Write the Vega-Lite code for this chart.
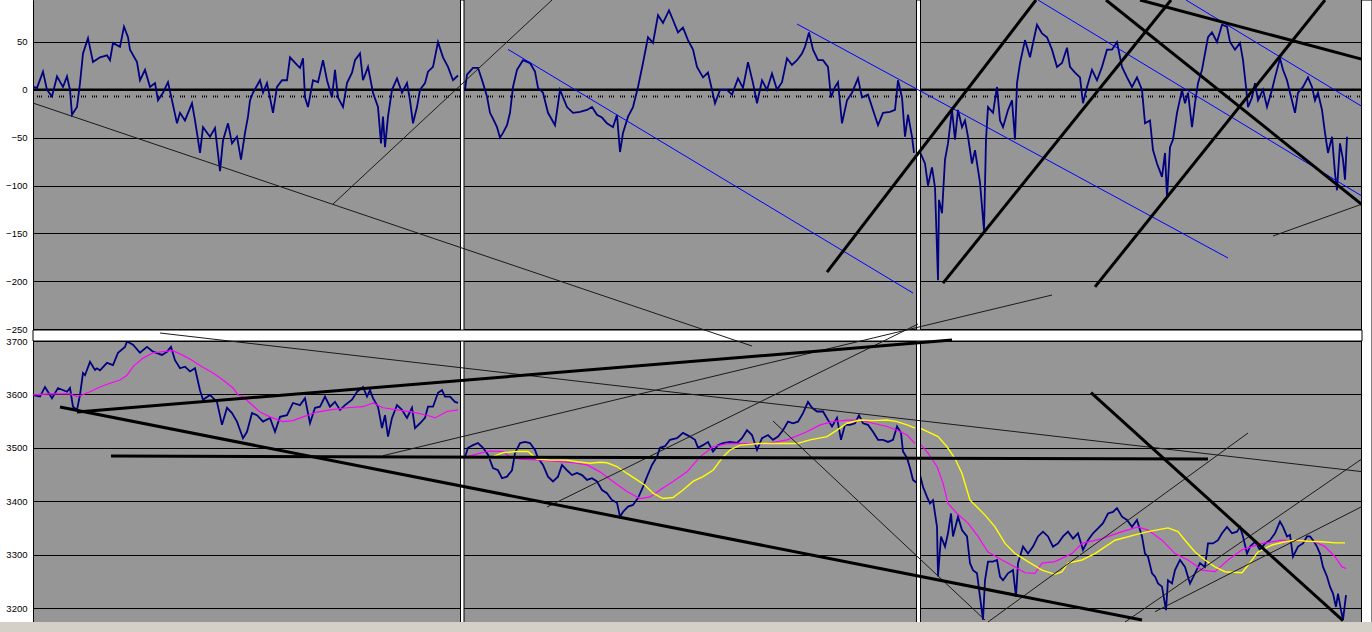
{
"$schema": "https://vega.github.io/schema/vega-lite/v6.json",
"width": 1329, "height": 632,
"autosize": {"type": "none"},
"padding": {"left": 33, "top": 0, "right": 10, "bottom": 0},
"background": "#FFFFFF",
"config": {"view": {"fill": "#969696", "stroke": null}},
"datasets": {
"one": [{}],
"osc": [
{"t":33,"v":3,"s":1},{"t":37,"v":2,"s":1},{"t":43,"v":19,"s":1},{"t":47,"v":0,"s":1},{"t":52,"v":-7,"s":1},{"t":57,"v":14,"s":1},{"t":63,"v":3,"s":1},{"t":67,"v":14,"s":1},{"t":70,"v":0,"s":1},{"t":72,"v":-26,"s":1},{"t":77,"v":-18,"s":1},{"t":80,"v":7,"s":1},{"t":83,"v":38,"s":1},{"t":88,"v":54,"s":1},{"t":93,"v":29,"s":1},{"t":100,"v":34,"s":1},{"t":107,"v":36,"s":1},{"t":110,"v":31,"s":1},{"t":113,"v":49,"s":1},{"t":120,"v":45,"s":1},{"t":124,"v":66,"s":1},{"t":128,"v":55,"s":1},{"t":130,"v":42,"s":1},{"t":137,"v":29,"s":1},{"t":140,"v":10,"s":1},{"t":145,"v":21,"s":1},{"t":150,"v":3,"s":1},{"t":155,"v":7,"s":1},{"t":158,"v":-11,"s":1},{"t":163,"v":-3,"s":1},{"t":168,"v":8,"s":1},{"t":172,"v":-11,"s":1},{"t":177,"v":-35,"s":1},{"t":180,"v":-24,"s":1},{"t":185,"v":-32,"s":1},{"t":192,"v":-14,"s":1},{"t":195,"v":-32,"s":1},{"t":197,"v":-45,"s":1},{"t":200,"v":-66,"s":1},{"t":203,"v":-39,"s":1},{"t":210,"v":-49,"s":1},{"t":215,"v":-40,"s":1},{"t":220,"v":-85,"s":1},{"t":223,"v":-53,"s":1},{"t":228,"v":-35,"s":1},{"t":232,"v":-56,"s":1},{"t":237,"v":-49,"s":1},{"t":241,"v":-73,"s":1},{"t":245,"v":-45,"s":1},{"t":248,"v":-28,"s":1},{"t":250,"v":-11,"s":1},{"t":253,"v":-3,"s":1},{"t":260,"v":10,"s":1},{"t":263,"v":-3,"s":1},{"t":267,"v":7,"s":1},{"t":273,"v":-24,"s":1},{"t":277,"v":3,"s":1},{"t":282,"v":10,"s":1},{"t":287,"v":10,"s":1},{"t":290,"v":34,"s":1},{"t":297,"v":26,"s":1},{"t":300,"v":23,"s":1},{"t":303,"v":33,"s":1},{"t":305,"v":-8,"s":1},{"t":308,"v":-18,"s":1},{"t":313,"v":10,"s":1},{"t":318,"v":8,"s":1},{"t":323,"v":31,"s":1},{"t":327,"v":10,"s":1},{"t":332,"v":-8,"s":1},{"t":335,"v":21,"s":1},{"t":338,"v":-8,"s":1},{"t":343,"v":-18,"s":1},{"t":347,"v":7,"s":1},{"t":352,"v":18,"s":1},{"t":355,"v":31,"s":1},{"t":360,"v":38,"s":1},{"t":363,"v":10,"s":1},{"t":368,"v":24,"s":1},{"t":373,"v":-3,"s":1},{"t":378,"v":-18,"s":1},{"t":381,"v":-56,"s":1},{"t":383,"v":-28,"s":1},{"t":385,"v":-60,"s":1},{"t":388,"v":-28,"s":1},{"t":392,"v":0,"s":1},{"t":397,"v":12,"s":1},{"t":402,"v":-3,"s":1},{"t":407,"v":7,"s":1},{"t":410,"v":-11,"s":1},{"t":413,"v":-35,"s":1},{"t":417,"v":-18,"s":1},{"t":420,"v":0,"s":1},{"t":425,"v":7,"s":1},{"t":428,"v":19,"s":1},{"t":433,"v":24,"s":1},{"t":438,"v":50,"s":1},{"t":443,"v":34,"s":1},{"t":448,"v":24,"s":1},{"t":453,"v":10,"s":1},{"t":458,"v":15,"s":1},
{"t":465,"v":0,"s":2},{"t":467,"v":16,"s":2},{"t":473,"v":23,"s":2},{"t":478,"v":23,"s":2},{"t":483,"v":7,"s":2},{"t":487,"v":-7,"s":2},{"t":490,"v":-24,"s":2},{"t":493,"v":-30,"s":2},{"t":497,"v":-39,"s":2},{"t":500,"v":-50,"s":2},{"t":503,"v":-45,"s":2},{"t":507,"v":-37,"s":2},{"t":510,"v":-24,"s":2},{"t":513,"v":3,"s":2},{"t":517,"v":21,"s":2},{"t":523,"v":31,"s":2},{"t":530,"v":28,"s":2},{"t":535,"v":19,"s":2},{"t":538,"v":2,"s":2},{"t":543,"v":-3,"s":2},{"t":548,"v":-24,"s":2},{"t":555,"v":-37,"s":2},{"t":560,"v":0,"s":2},{"t":567,"v":-18,"s":2},{"t":573,"v":-24,"s":2},{"t":580,"v":-23,"s":2},{"t":587,"v":-21,"s":2},{"t":592,"v":-18,"s":2},{"t":597,"v":-26,"s":2},{"t":602,"v":-29,"s":2},{"t":607,"v":-35,"s":2},{"t":613,"v":-39,"s":2},{"t":617,"v":-26,"s":2},{"t":620,"v":-65,"s":2},{"t":623,"v":-45,"s":2},{"t":628,"v":-28,"s":2},{"t":633,"v":-18,"s":2},{"t":638,"v":3,"s":2},{"t":643,"v":28,"s":2},{"t":648,"v":55,"s":2},{"t":653,"v":49,"s":2},{"t":658,"v":78,"s":2},{"t":663,"v":70,"s":2},{"t":669,"v":83,"s":2},{"t":673,"v":73,"s":2},{"t":678,"v":60,"s":2},{"t":683,"v":65,"s":2},{"t":688,"v":52,"s":2},{"t":693,"v":42,"s":2},{"t":697,"v":24,"s":2},{"t":703,"v":13,"s":2},{"t":708,"v":18,"s":2},{"t":712,"v":0,"s":2},{"t":715,"v":-14,"s":2},{"t":720,"v":0,"s":2},{"t":727,"v":0,"s":2},{"t":732,"v":-5,"s":2},{"t":738,"v":12,"s":2},{"t":743,"v":2,"s":2},{"t":748,"v":29,"s":2},{"t":753,"v":7,"s":2},{"t":757,"v":-14,"s":2},{"t":762,"v":10,"s":2},{"t":767,"v":0,"s":2},{"t":772,"v":17,"s":2},{"t":777,"v":0,"s":2},{"t":782,"v":8,"s":2},{"t":787,"v":33,"s":2},{"t":792,"v":26,"s":2},{"t":797,"v":31,"s":2},{"t":802,"v":38,"s":2},{"t":805,"v":45,"s":2},{"t":809,"v":60,"s":2},{"t":813,"v":42,"s":2},{"t":818,"v":31,"s":2},{"t":823,"v":31,"s":2},{"t":828,"v":24,"s":2},{"t":831,"v":-8,"s":2},{"t":835,"v":3,"s":2},{"t":838,"v":8,"s":2},{"t":842,"v":-35,"s":2},{"t":847,"v":-11,"s":2},{"t":852,"v":-3,"s":2},{"t":858,"v":12,"s":2},{"t":862,"v":-8,"s":2},{"t":868,"v":-5,"s":2},{"t":873,"v":-21,"s":2},{"t":878,"v":-37,"s":2},{"t":883,"v":-24,"s":2},{"t":890,"v":-23,"s":2},{"t":895,"v":-21,"s":2},{"t":898,"v":10,"s":2},{"t":902,"v":-8,"s":2},{"t":905,"v":-49,"s":2},{"t":908,"v":-26,"s":2},{"t":912,"v":-49,"s":2},{"t":914,"v":-66,"s":2},
{"t":920,"v":-65,"s":3},{"t":925,"v":-77,"s":3},{"t":928,"v":-100,"s":3},{"t":932,"v":-81,"s":3},{"t":935,"v":-102,"s":3},{"t":938,"v":-199,"s":3},{"t":939,"v":-115,"s":3},{"t":942,"v":-129,"s":3},{"t":945,"v":-73,"s":3},{"t":948,"v":-56,"s":3},{"t":952,"v":-21,"s":3},{"t":955,"v":-52,"s":3},{"t":958,"v":-21,"s":3},{"t":962,"v":-39,"s":3},{"t":965,"v":-32,"s":3},{"t":968,"v":-49,"s":3},{"t":972,"v":-77,"s":3},{"t":975,"v":-63,"s":3},{"t":980,"v":-97,"s":3},{"t":984,"v":-147,"s":3},{"t":986,"v":-52,"s":3},{"t":988,"v":-18,"s":3},{"t":993,"v":-24,"s":3},{"t":997,"v":3,"s":3},{"t":1000,"v":-32,"s":3},{"t":1003,"v":-39,"s":3},{"t":1008,"v":-21,"s":3},{"t":1012,"v":-11,"s":3},{"t":1015,"v":-52,"s":3},{"t":1017,"v":7,"s":3},{"t":1020,"v":28,"s":3},{"t":1025,"v":52,"s":3},{"t":1030,"v":34,"s":3},{"t":1033,"v":49,"s":3},{"t":1037,"v":68,"s":3},{"t":1042,"v":59,"s":3},{"t":1047,"v":55,"s":3},{"t":1052,"v":42,"s":3},{"t":1057,"v":24,"s":3},{"t":1062,"v":28,"s":3},{"t":1067,"v":44,"s":3},{"t":1070,"v":24,"s":3},{"t":1075,"v":18,"s":3},{"t":1080,"v":13,"s":3},{"t":1083,"v":-14,"s":3},{"t":1087,"v":3,"s":3},{"t":1092,"v":21,"s":3},{"t":1097,"v":10,"s":3},{"t":1102,"v":24,"s":3},{"t":1107,"v":42,"s":3},{"t":1112,"v":42,"s":3},{"t":1117,"v":50,"s":3},{"t":1122,"v":24,"s":3},{"t":1127,"v":13,"s":3},{"t":1132,"v":3,"s":3},{"t":1137,"v":13,"s":3},{"t":1142,"v":0,"s":3},{"t":1145,"v":-35,"s":3},{"t":1150,"v":-32,"s":3},{"t":1153,"v":-63,"s":3},{"t":1157,"v":-77,"s":3},{"t":1162,"v":-91,"s":3},{"t":1165,"v":-66,"s":3},{"t":1167,"v":-112,"s":3},{"t":1170,"v":-60,"s":3},{"t":1173,"v":-52,"s":3},{"t":1177,"v":-24,"s":3},{"t":1182,"v":0,"s":3},{"t":1185,"v":-14,"s":3},{"t":1188,"v":-3,"s":3},{"t":1192,"v":-39,"s":3},{"t":1195,"v":-14,"s":3},{"t":1198,"v":7,"s":3},{"t":1202,"v":21,"s":3},{"t":1205,"v":38,"s":3},{"t":1208,"v":55,"s":3},{"t":1212,"v":60,"s":3},{"t":1217,"v":50,"s":3},{"t":1222,"v":68,"s":3},{"t":1227,"v":66,"s":3},{"t":1230,"v":50,"s":3},{"t":1235,"v":42,"s":3},{"t":1240,"v":49,"s":3},{"t":1243,"v":31,"s":3},{"t":1246,"v":3,"s":3},{"t":1248,"v":-18,"s":3},{"t":1252,"v":-8,"s":3},{"t":1255,"v":7,"s":3},{"t":1258,"v":-11,"s":3},{"t":1263,"v":0,"s":3},{"t":1267,"v":-18,"s":3},{"t":1272,"v":0,"s":3},{"t":1275,"v":13,"s":3},{"t":1280,"v":33,"s":3},{"t":1283,"v":21,"s":3},{"t":1287,"v":10,"s":3},{"t":1290,"v":-3,"s":3},{"t":1295,"v":-24,"s":3},{"t":1298,"v":-3,"s":3},{"t":1303,"v":3,"s":3},{"t":1308,"v":13,"s":3},{"t":1312,"v":3,"s":3},{"t":1315,"v":-11,"s":3},{"t":1318,"v":-3,"s":3},{"t":1322,"v":-21,"s":3},{"t":1325,"v":-45,"s":3},{"t":1328,"v":-66,"s":3},{"t":1332,"v":-49,"s":3},{"t":1335,"v":-87,"s":3},{"t":1337,"v":-105,"s":3},{"t":1340,"v":-56,"s":3},{"t":1343,"v":-73,"s":3},{"t":1345,"v":-94,"s":3},{"t":1347,"v":-49,"s":3}
],
"price": [
{"t":33,"p":3599,"s":1},{"t":40,"p":3596,"s":1},{"t":45,"p":3614,"s":1},{"t":52,"p":3593,"s":1},{"t":58,"p":3612,"s":1},{"t":67,"p":3605,"s":1},{"t":70,"p":3612,"s":1},{"t":73,"p":3577,"s":1},{"t":77,"p":3571,"s":1},{"t":80,"p":3599,"s":1},{"t":83,"p":3640,"s":1},{"t":85,"p":3636,"s":1},{"t":90,"p":3661,"s":1},{"t":95,"p":3646,"s":1},{"t":97,"p":3649,"s":1},{"t":100,"p":3645,"s":1},{"t":107,"p":3659,"s":1},{"t":113,"p":3655,"s":1},{"t":118,"p":3678,"s":1},{"t":125,"p":3689,"s":1},{"t":127,"p":3699,"s":1},{"t":133,"p":3693,"s":1},{"t":140,"p":3678,"s":1},{"t":147,"p":3689,"s":1},{"t":153,"p":3680,"s":1},{"t":162,"p":3674,"s":1},{"t":167,"p":3680,"s":1},{"t":171,"p":3689,"s":1},{"t":175,"p":3664,"s":1},{"t":180,"p":3649,"s":1},{"t":185,"p":3652,"s":1},{"t":190,"p":3643,"s":1},{"t":195,"p":3649,"s":1},{"t":200,"p":3608,"s":1},{"t":203,"p":3590,"s":1},{"t":210,"p":3599,"s":1},{"t":217,"p":3586,"s":1},{"t":222,"p":3543,"s":1},{"t":227,"p":3575,"s":1},{"t":232,"p":3565,"s":1},{"t":237,"p":3549,"s":1},{"t":243,"p":3518,"s":1},{"t":247,"p":3530,"s":1},{"t":252,"p":3565,"s":1},{"t":257,"p":3561,"s":1},{"t":263,"p":3549,"s":1},{"t":270,"p":3556,"s":1},{"t":275,"p":3530,"s":1},{"t":280,"p":3558,"s":1},{"t":287,"p":3561,"s":1},{"t":293,"p":3584,"s":1},{"t":300,"p":3580,"s":1},{"t":305,"p":3593,"s":1},{"t":310,"p":3546,"s":1},{"t":315,"p":3575,"s":1},{"t":320,"p":3577,"s":1},{"t":325,"p":3596,"s":1},{"t":330,"p":3577,"s":1},{"t":335,"p":3586,"s":1},{"t":340,"p":3571,"s":1},{"t":345,"p":3580,"s":1},{"t":352,"p":3590,"s":1},{"t":357,"p":3605,"s":1},{"t":363,"p":3614,"s":1},{"t":367,"p":3596,"s":1},{"t":370,"p":3608,"s":1},{"t":373,"p":3593,"s":1},{"t":378,"p":3577,"s":1},{"t":382,"p":3537,"s":1},{"t":385,"p":3561,"s":1},{"t":388,"p":3521,"s":1},{"t":392,"p":3556,"s":1},{"t":397,"p":3580,"s":1},{"t":402,"p":3571,"s":1},{"t":407,"p":3556,"s":1},{"t":412,"p":3575,"s":1},{"t":415,"p":3537,"s":1},{"t":420,"p":3546,"s":1},{"t":425,"p":3556,"s":1},{"t":428,"p":3577,"s":1},{"t":433,"p":3577,"s":1},{"t":438,"p":3603,"s":1},{"t":442,"p":3608,"s":1},{"t":445,"p":3596,"s":1},{"t":450,"p":3596,"s":1},{"t":455,"p":3586,"s":1},{"t":458,"p":3584,"s":1},
{"t":465,"p":3483,"s":2},{"t":468,"p":3500,"s":2},{"t":473,"p":3505,"s":2},{"t":478,"p":3509,"s":2},{"t":483,"p":3500,"s":2},{"t":488,"p":3487,"s":2},{"t":493,"p":3462,"s":2},{"t":498,"p":3458,"s":2},{"t":502,"p":3443,"s":2},{"t":507,"p":3446,"s":2},{"t":512,"p":3458,"s":2},{"t":515,"p":3490,"s":2},{"t":520,"p":3509,"s":2},{"t":525,"p":3511,"s":2},{"t":530,"p":3509,"s":2},{"t":535,"p":3496,"s":2},{"t":538,"p":3481,"s":2},{"t":543,"p":3468,"s":2},{"t":548,"p":3446,"s":2},{"t":553,"p":3437,"s":2},{"t":558,"p":3446,"s":2},{"t":562,"p":3468,"s":2},{"t":567,"p":3458,"s":2},{"t":572,"p":3449,"s":2},{"t":577,"p":3453,"s":2},{"t":582,"p":3449,"s":2},{"t":587,"p":3440,"s":2},{"t":592,"p":3443,"s":2},{"t":597,"p":3437,"s":2},{"t":602,"p":3421,"s":2},{"t":607,"p":3415,"s":2},{"t":612,"p":3402,"s":2},{"t":617,"p":3397,"s":2},{"t":620,"p":3371,"s":2},{"t":623,"p":3380,"s":2},{"t":628,"p":3390,"s":2},{"t":633,"p":3393,"s":2},{"t":638,"p":3406,"s":2},{"t":643,"p":3427,"s":2},{"t":647,"p":3446,"s":2},{"t":652,"p":3468,"s":2},{"t":657,"p":3483,"s":2},{"t":660,"p":3500,"s":2},{"t":665,"p":3503,"s":2},{"t":670,"p":3515,"s":2},{"t":677,"p":3518,"s":2},{"t":683,"p":3528,"s":2},{"t":690,"p":3521,"s":2},{"t":695,"p":3515,"s":2},{"t":698,"p":3500,"s":2},{"t":703,"p":3505,"s":2},{"t":708,"p":3511,"s":2},{"t":713,"p":3493,"s":2},{"t":718,"p":3505,"s":2},{"t":723,"p":3509,"s":2},{"t":730,"p":3511,"s":2},{"t":737,"p":3509,"s":2},{"t":742,"p":3518,"s":2},{"t":747,"p":3533,"s":2},{"t":752,"p":3524,"s":2},{"t":757,"p":3496,"s":2},{"t":762,"p":3518,"s":2},{"t":768,"p":3524,"s":2},{"t":773,"p":3515,"s":2},{"t":778,"p":3521,"s":2},{"t":783,"p":3533,"s":2},{"t":788,"p":3549,"s":2},{"t":793,"p":3546,"s":2},{"t":798,"p":3549,"s":2},{"t":803,"p":3565,"s":2},{"t":808,"p":3586,"s":2},{"t":812,"p":3575,"s":2},{"t":817,"p":3568,"s":2},{"t":823,"p":3568,"s":2},{"t":828,"p":3552,"s":2},{"t":832,"p":3540,"s":2},{"t":837,"p":3556,"s":2},{"t":841,"p":3515,"s":2},{"t":845,"p":3543,"s":2},{"t":850,"p":3543,"s":2},{"t":855,"p":3546,"s":2},{"t":859,"p":3561,"s":2},{"t":863,"p":3546,"s":2},{"t":868,"p":3543,"s":2},{"t":873,"p":3530,"s":2},{"t":878,"p":3515,"s":2},{"t":883,"p":3515,"s":2},{"t":888,"p":3511,"s":2},{"t":893,"p":3515,"s":2},{"t":897,"p":3540,"s":2},{"t":901,"p":3528,"s":2},{"t":903,"p":3493,"s":2},{"t":907,"p":3481,"s":2},{"t":910,"p":3462,"s":2},{"t":913,"p":3440,"s":2},{"t":917,"p":3434,"s":2},
{"t":920,"p":3449,"s":3},{"t":923,"p":3427,"s":3},{"t":927,"p":3408,"s":3},{"t":930,"p":3396,"s":3},{"t":933,"p":3402,"s":3},{"t":937,"p":3352,"s":3},{"t":938,"p":3259,"s":3},{"t":941,"p":3334,"s":3},{"t":945,"p":3315,"s":3},{"t":948,"p":3340,"s":3},{"t":951,"p":3377,"s":3},{"t":953,"p":3334,"s":3},{"t":958,"p":3371,"s":3},{"t":962,"p":3346,"s":3},{"t":967,"p":3334,"s":3},{"t":970,"p":3284,"s":3},{"t":973,"p":3271,"s":3},{"t":977,"p":3265,"s":3},{"t":980,"p":3221,"s":3},{"t":983,"p":3178,"s":3},{"t":985,"p":3252,"s":3},{"t":988,"p":3287,"s":3},{"t":993,"p":3287,"s":3},{"t":997,"p":3290,"s":3},{"t":1000,"p":3259,"s":3},{"t":1003,"p":3252,"s":3},{"t":1008,"p":3265,"s":3},{"t":1013,"p":3271,"s":3},{"t":1016,"p":3221,"s":3},{"t":1018,"p":3284,"s":3},{"t":1023,"p":3315,"s":3},{"t":1028,"p":3302,"s":3},{"t":1033,"p":3315,"s":3},{"t":1038,"p":3334,"s":3},{"t":1043,"p":3343,"s":3},{"t":1048,"p":3334,"s":3},{"t":1053,"p":3315,"s":3},{"t":1058,"p":3321,"s":3},{"t":1063,"p":3334,"s":3},{"t":1068,"p":3343,"s":3},{"t":1073,"p":3330,"s":3},{"t":1078,"p":3340,"s":3},{"t":1083,"p":3309,"s":3},{"t":1088,"p":3327,"s":3},{"t":1093,"p":3340,"s":3},{"t":1098,"p":3349,"s":3},{"t":1103,"p":3359,"s":3},{"t":1108,"p":3377,"s":3},{"t":1113,"p":3380,"s":3},{"t":1117,"p":3387,"s":3},{"t":1122,"p":3371,"s":3},{"t":1127,"p":3365,"s":3},{"t":1132,"p":3352,"s":3},{"t":1137,"p":3365,"s":3},{"t":1142,"p":3334,"s":3},{"t":1145,"p":3302,"s":3},{"t":1148,"p":3296,"s":3},{"t":1152,"p":3265,"s":3},{"t":1155,"p":3259,"s":3},{"t":1158,"p":3246,"s":3},{"t":1162,"p":3240,"s":3},{"t":1166,"p":3196,"s":3},{"t":1168,"p":3252,"s":3},{"t":1172,"p":3246,"s":3},{"t":1175,"p":3271,"s":3},{"t":1180,"p":3290,"s":3},{"t":1185,"p":3277,"s":3},{"t":1190,"p":3246,"s":3},{"t":1195,"p":3265,"s":3},{"t":1200,"p":3284,"s":3},{"t":1205,"p":3277,"s":3},{"t":1208,"p":3321,"s":3},{"t":1213,"p":3321,"s":3},{"t":1218,"p":3327,"s":3},{"t":1222,"p":3340,"s":3},{"t":1227,"p":3352,"s":3},{"t":1232,"p":3340,"s":3},{"t":1237,"p":3343,"s":3},{"t":1240,"p":3352,"s":3},{"t":1243,"p":3334,"s":3},{"t":1247,"p":3302,"s":3},{"t":1250,"p":3315,"s":3},{"t":1255,"p":3324,"s":3},{"t":1260,"p":3309,"s":3},{"t":1265,"p":3321,"s":3},{"t":1270,"p":3327,"s":3},{"t":1275,"p":3340,"s":3},{"t":1280,"p":3362,"s":3},{"t":1283,"p":3352,"s":3},{"t":1287,"p":3334,"s":3},{"t":1290,"p":3337,"s":3},{"t":1293,"p":3296,"s":3},{"t":1298,"p":3315,"s":3},{"t":1303,"p":3321,"s":3},{"t":1307,"p":3334,"s":3},{"t":1310,"p":3334,"s":3},{"t":1313,"p":3327,"s":3},{"t":1317,"p":3315,"s":3},{"t":1320,"p":3302,"s":3},{"t":1323,"p":3277,"s":3},{"t":1327,"p":3259,"s":3},{"t":1330,"p":3240,"s":3},{"t":1333,"p":3227,"s":3},{"t":1336,"p":3202,"s":3},{"t":1338,"p":3227,"s":3},{"t":1341,"p":3196,"s":3},{"t":1343,"p":3178,"s":3},{"t":1346,"p":3224,"s":3}
],
"maFast": [
{"t":33,"p":3599,"s":1},{"t":50,"p":3601,"s":1},{"t":70,"p":3601,"s":1},{"t":77,"p":3596,"s":1},{"t":82,"p":3599,"s":1},{"t":90,"p":3605,"s":1},{"t":100,"p":3614,"s":1},{"t":110,"p":3621,"s":1},{"t":120,"p":3627,"s":1},{"t":127,"p":3636,"s":1},{"t":133,"p":3652,"s":1},{"t":143,"p":3668,"s":1},{"t":153,"p":3678,"s":1},{"t":163,"p":3680,"s":1},{"t":173,"p":3682,"s":1},{"t":182,"p":3674,"s":1},{"t":192,"p":3664,"s":1},{"t":202,"p":3652,"s":1},{"t":213,"p":3640,"s":1},{"t":223,"p":3627,"s":1},{"t":233,"p":3612,"s":1},{"t":238,"p":3599,"s":1},{"t":243,"p":3596,"s":1},{"t":250,"p":3584,"s":1},{"t":260,"p":3567,"s":1},{"t":270,"p":3558,"s":1},{"t":283,"p":3549,"s":1},{"t":293,"p":3551,"s":1},{"t":303,"p":3558,"s":1},{"t":317,"p":3567,"s":1},{"t":330,"p":3571,"s":1},{"t":347,"p":3575,"s":1},{"t":363,"p":3577,"s":1},{"t":373,"p":3584,"s":1},{"t":383,"p":3575,"s":1},{"t":397,"p":3571,"s":1},{"t":413,"p":3567,"s":1},{"t":427,"p":3561,"s":1},{"t":435,"p":3556,"s":1},{"t":447,"p":3568,"s":1},{"t":458,"p":3571,"s":1},
{"t":467,"p":3483,"s":2},{"t":480,"p":3490,"s":2},{"t":490,"p":3494,"s":2},{"t":503,"p":3493,"s":2},{"t":510,"p":3483,"s":2},{"t":520,"p":3479,"s":2},{"t":533,"p":3478,"s":2},{"t":547,"p":3476,"s":2},{"t":560,"p":3474,"s":2},{"t":573,"p":3472,"s":2},{"t":587,"p":3468,"s":2},{"t":600,"p":3455,"s":2},{"t":613,"p":3437,"s":2},{"t":627,"p":3418,"s":2},{"t":640,"p":3405,"s":2},{"t":650,"p":3408,"s":2},{"t":660,"p":3421,"s":2},{"t":673,"p":3437,"s":2},{"t":687,"p":3455,"s":2},{"t":700,"p":3483,"s":2},{"t":713,"p":3502,"s":2},{"t":727,"p":3508,"s":2},{"t":747,"p":3508,"s":2},{"t":767,"p":3508,"s":2},{"t":787,"p":3515,"s":2},{"t":807,"p":3530,"s":2},{"t":820,"p":3543,"s":2},{"t":833,"p":3549,"s":2},{"t":847,"p":3552,"s":2},{"t":860,"p":3552,"s":2},{"t":873,"p":3546,"s":2},{"t":887,"p":3540,"s":2},{"t":897,"p":3533,"s":2},{"t":907,"p":3524,"s":2},{"t":915,"p":3508,"s":2},
{"t":920,"p":3508,"s":3},{"t":928,"p":3490,"s":3},{"t":937,"p":3465,"s":3},{"t":943,"p":3434,"s":3},{"t":948,"p":3396,"s":3},{"t":957,"p":3377,"s":3},{"t":968,"p":3359,"s":3},{"t":978,"p":3334,"s":3},{"t":988,"p":3305,"s":3},{"t":1002,"p":3290,"s":3},{"t":1015,"p":3277,"s":3},{"t":1025,"p":3266,"s":3},{"t":1035,"p":3265,"s":3},{"t":1042,"p":3284,"s":3},{"t":1055,"p":3287,"s":3},{"t":1072,"p":3302,"s":3},{"t":1082,"p":3321,"s":3},{"t":1102,"p":3330,"s":3},{"t":1122,"p":3343,"s":3},{"t":1138,"p":3352,"s":3},{"t":1148,"p":3346,"s":3},{"t":1162,"p":3327,"s":3},{"t":1175,"p":3302,"s":3},{"t":1188,"p":3290,"s":3},{"t":1202,"p":3271,"s":3},{"t":1215,"p":3268,"s":3},{"t":1228,"p":3290,"s":3},{"t":1242,"p":3309,"s":3},{"t":1262,"p":3321,"s":3},{"t":1282,"p":3327,"s":3},{"t":1302,"p":3325,"s":3},{"t":1315,"p":3324,"s":3},{"t":1325,"p":3315,"s":3},{"t":1335,"p":3296,"s":3},{"t":1342,"p":3277,"s":3},{"t":1346,"p":3274,"s":3}
],
"maSlow": [
{"t":488,"p":3480,"s":2},{"t":503,"p":3491,"s":2},{"t":517,"p":3493,"s":2},{"t":528,"p":3493,"s":2},{"t":537,"p":3479,"s":2},{"t":550,"p":3477,"s":2},{"t":567,"p":3477,"s":2},{"t":577,"p":3474,"s":2},{"t":590,"p":3471,"s":2},{"t":600,"p":3473,"s":2},{"t":607,"p":3472,"s":2},{"t":617,"p":3465,"s":2},{"t":627,"p":3452,"s":2},{"t":637,"p":3440,"s":2},{"t":645,"p":3430,"s":2},{"t":653,"p":3415,"s":2},{"t":663,"p":3405,"s":2},{"t":673,"p":3407,"s":2},{"t":683,"p":3421,"s":2},{"t":693,"p":3437,"s":2},{"t":703,"p":3446,"s":2},{"t":713,"p":3458,"s":2},{"t":723,"p":3483,"s":2},{"t":730,"p":3496,"s":2},{"t":740,"p":3505,"s":2},{"t":760,"p":3508,"s":2},{"t":780,"p":3508,"s":2},{"t":797,"p":3508,"s":2},{"t":810,"p":3515,"s":2},{"t":827,"p":3521,"s":2},{"t":837,"p":3533,"s":2},{"t":847,"p":3546,"s":2},{"t":860,"p":3552,"s":2},{"t":873,"p":3551,"s":2},{"t":887,"p":3552,"s":2},{"t":897,"p":3549,"s":2},{"t":907,"p":3543,"s":2},{"t":915,"p":3537,"s":2},
{"t":920,"p":3537,"s":3},{"t":928,"p":3530,"s":3},{"t":938,"p":3521,"s":3},{"t":947,"p":3502,"s":3},{"t":955,"p":3480,"s":3},{"t":962,"p":3452,"s":3},{"t":970,"p":3402,"s":3},{"t":975,"p":3393,"s":3},{"t":985,"p":3374,"s":3},{"t":995,"p":3352,"s":3},{"t":1005,"p":3321,"s":3},{"t":1015,"p":3302,"s":3},{"t":1028,"p":3287,"s":3},{"t":1042,"p":3271,"s":3},{"t":1055,"p":3263,"s":3},{"t":1062,"p":3268,"s":3},{"t":1068,"p":3284,"s":3},{"t":1082,"p":3290,"s":3},{"t":1095,"p":3302,"s":3},{"t":1115,"p":3327,"s":3},{"t":1135,"p":3337,"s":3},{"t":1148,"p":3343,"s":3},{"t":1168,"p":3350,"s":3},{"t":1178,"p":3343,"s":3},{"t":1185,"p":3327,"s":3},{"t":1195,"p":3305,"s":3},{"t":1205,"p":3290,"s":3},{"t":1215,"p":3277,"s":3},{"t":1225,"p":3268,"s":3},{"t":1242,"p":3266,"s":3},{"t":1248,"p":3280,"s":3},{"t":1258,"p":3305,"s":3},{"t":1272,"p":3318,"s":3},{"t":1285,"p":3324,"s":3},{"t":1295,"p":3327,"s":3},{"t":1308,"p":3325,"s":3},{"t":1322,"p":3324,"s":3},{"t":1335,"p":3322,"s":3},{"t":1345,"p":3322,"s":3}
],
"topThin": [
{"x1":33,"y1":-13.8,"x2":752,"y2":-267.8},
{"x1":333,"y1":-119.4,"x2":552,"y2":93.9},
{"x1":1273,"y1":-152.8,"x2":1365,"y2":-118.3}
],
"topBlue": [
{"x1":508,"y1":42.3,"x2":913,"y2":-212.4},
{"x1":797,"y1":68.8,"x2":1228,"y2":-175.8},
{"x1":1038,"y1":93.9,"x2":1365,"y2":-113},
{"x1":1186,"y1":93.9,"x2":1365,"y2":-19.3}
],
"topThick": [
{"x1":827,"y1":-190.5,"x2":1036,"y2":93.9},
{"x1":943,"y1":-202,"x2":1171,"y2":93.9},
{"x1":1095,"y1":-206,"x2":1325,"y2":93.9},
{"x1":1106,"y1":93.9,"x2":1365,"y2":-122.5},
{"x1":1140,"y1":93.9,"x2":1365,"y2":31.2}
],
"botThin": [
{"x1":160,"y1":3715,"x2":1365,"y2":3454.7},
{"x1":383,"y1":3485.3,"x2":1052,"y2":3786.1},
{"x1":547,"y1":3389.1,"x2":918,"y2":3731.8},
{"x1":773,"y1":3550.2,"x2":985,"y2":3177.5},
{"x1":988,"y1":3173.8,"x2":1248,"y2":3527.7},
{"x1":1125,"y1":3173.8,"x2":1365,"y2":3483.3},
{"x1":1155,"y1":3193.1,"x2":1365,"y2":3392.9}
],
"botThick": [
{"x1":60,"y1":3576.4,"x2":1142,"y2":3177.5},
{"x1":77,"y1":3567,"x2":952,"y2":3701.9},
{"x1":111,"y1":3484.6,"x2":1208,"y2":3479},
{"x1":1091,"y1":3603.2,"x2":1343,"y2":3176.2}
]
},
"resolve": {"scale": {"y": "independent"}, "axis": {"y": "independent"}},
"layer": [
{"data": {"name": "one"},
 "mark": {"type": "rule", "color": "#000000", "strokeWidth": 2, "strokeDash": [1,1,1,1,1,6]},
 "encoding": {"y": {"datum": -7, "type": "quantitative", "scale": {"domain": [-566.7, 93.9], "nice": false, "zero": false},
   "axis": {"orient": "left", "values": [-250,-200,-150,-100,-50,0,50], "format": "d", "grid": true, "gridColor": "#000000", "gridOpacity": 1, "gridWidth": 1, "ticks": false, "domain": true, "domainColor": "#000000", "labelFont": "Liberation Sans", "labelFontSize": 9.5, "labelColor": "#000000", "labelPadding": 6, "labelFlush": false, "labelOverlap": false, "title": null}}}},
{"data": {"name": "price"},
 "mark": {"type": "line", "color": "#000080", "strokeWidth": 1.8, "clip": true},
 "encoding": {
  "x": {"field": "t", "type": "quantitative", "scale": {"domain": [33, 1362], "nice": false, "zero": false}, "axis": null},
  "y": {"field": "p", "type": "quantitative", "scale": {"domain": [3155.1, 4338.6], "nice": false, "zero": false},
        "axis": {"orient": "left", "values": [3200,3300,3400,3500,3600,3700], "format": "d", "grid": true, "gridColor": "#000000", "gridOpacity": 1, "gridWidth": 1, "ticks": false, "domain": true, "domainColor": "#000000", "labelFont": "Liberation Sans", "labelFontSize": 9.5, "labelColor": "#000000", "labelPadding": 6, "labelFlush": false, "labelOverlap": false, "title": null}},
  "detail": {"field": "s", "type": "nominal"}
 }},
{"data": {"name": "one"},
 "mark": {"type": "rule", "color": "#000000", "strokeWidth": 2.5},
 "encoding": {"y": {"datum": 0, "type": "quantitative", "scale": {"domain": [-566.7, 93.9], "nice": false, "zero": false}, "axis": null}}},
{"data": {"name": "osc"},
 "mark": {"type": "line", "color": "#000080", "strokeWidth": 1.8, "clip": true},
 "encoding": {
  "x": {"field": "t", "type": "quantitative", "scale": {"domain": [33, 1362], "nice": false, "zero": false}, "axis": null},
  "y": {"field": "v", "type": "quantitative", "scale": {"domain": [-566.7, 93.9], "nice": false, "zero": false}, "axis": null},
  "detail": {"field": "s", "type": "nominal"}
 }},
{"data": {"name": "maFast"},
 "mark": {"type": "line", "color": "#FF00FF", "strokeWidth": 1.2, "clip": true},
 "encoding": {
  "x": {"field": "t", "type": "quantitative", "scale": {"domain": [33, 1362], "nice": false, "zero": false}, "axis": null},
  "y": {"field": "p", "type": "quantitative", "scale": {"domain": [3155.1, 4338.6], "nice": false, "zero": false}, "axis": null},
  "detail": {"field": "s", "type": "nominal"}
 }},
{"data": {"name": "maSlow"},
 "mark": {"type": "line", "color": "#FFFF00", "strokeWidth": 1.4, "clip": true},
 "encoding": {
  "x": {"field": "t", "type": "quantitative", "scale": {"domain": [33, 1362], "nice": false, "zero": false}, "axis": null},
  "y": {"field": "p", "type": "quantitative", "scale": {"domain": [3155.1, 4338.6], "nice": false, "zero": false}, "axis": null},
  "detail": {"field": "s", "type": "nominal"}
 }},
{"data": {"name": "one"},
 "mark": {"type": "rect", "fill": "#FFFFFF", "stroke": "#000000", "strokeWidth": 1},
 "encoding": {
  "x": {"datum": 460.5, "type": "quantitative", "scale": {"domain": [33, 1362], "nice": false, "zero": false}, "axis": null},
  "x2": {"datum": 464},
  "y": {"datum": 3155.1, "type": "quantitative", "scale": {"domain": [3155.1, 4338.6], "nice": false, "zero": false}, "axis": null},
  "y2": {"datum": 4338.6}
 }},
{"data": {"name": "one"},
 "mark": {"type": "rect", "fill": "#FFFFFF", "stroke": "#000000", "strokeWidth": 1},
 "encoding": {
  "x": {"datum": 916.5, "type": "quantitative", "scale": {"domain": [33, 1362], "nice": false, "zero": false}, "axis": null},
  "x2": {"datum": 920.5},
  "y": {"datum": 3155.1, "type": "quantitative", "scale": {"domain": [3155.1, 4338.6], "nice": false, "zero": false}, "axis": null},
  "y2": {"datum": 4338.6}
 }},
{"data": {"name": "one"},
 "mark": {"type": "rect", "fill": "#FFFFFF", "stroke": "#000000", "strokeWidth": 1},
 "encoding": {
  "x": {"datum": 1361.5, "type": "quantitative", "scale": {"domain": [33, 1362], "nice": false, "zero": false}, "axis": null},
  "x2": {"datum": 1372},
  "y": {"datum": 3155.1, "type": "quantitative", "scale": {"domain": [3155.1, 4338.6], "nice": false, "zero": false}, "axis": null},
  "y2": {"datum": 4338.6}
 }},
{"data": {"name": "one"},
 "mark": {"type": "rect", "fill": "#FFFFFF", "stroke": "#000000", "strokeWidth": 1},
 "encoding": {
  "x": {"datum": 33, "type": "quantitative", "scale": {"domain": [33, 1362], "nice": false, "zero": false}, "axis": null},
  "x2": {"datum": 1362},
  "y": {"datum": 3700, "type": "quantitative", "scale": {"domain": [3155.1, 4338.6], "nice": false, "zero": false}, "axis": null},
  "y2": {"datum": 3720.6}
 }},
{"data": {"name": "one"},
 "mark": {"type": "rect", "fill": "#D4D0C8"},
 "encoding": {
  "x": {"datum": 0, "type": "quantitative", "scale": {"domain": [33, 1362], "nice": false, "zero": false}, "axis": null},
  "x2": {"datum": 1372},
  "y": {"datum": 3155.1, "type": "quantitative", "scale": {"domain": [3155.1, 4338.6], "nice": false, "zero": false}, "axis": null},
  "y2": {"datum": 3173.8}
 }},
{"data": {"name": "topThin"},
 "mark": {"type": "rule", "color": "#1A1A1A", "strokeWidth": 1, "clip": true},
 "encoding": {
  "x": {"field": "x1", "type": "quantitative", "scale": {"domain": [33, 1362], "nice": false, "zero": false}, "axis": null},
  "x2": {"field": "x2"},
  "y": {"field": "y1", "type": "quantitative", "scale": {"domain": [-566.7, 93.9], "nice": false, "zero": false}, "axis": null},
  "y2": {"field": "y2"}
 }},
{"data": {"name": "topBlue"},
 "mark": {"type": "rule", "color": "#0000FF", "strokeWidth": 1, "clip": true},
 "encoding": {
  "x": {"field": "x1", "type": "quantitative", "scale": {"domain": [33, 1362], "nice": false, "zero": false}, "axis": null},
  "x2": {"field": "x2"},
  "y": {"field": "y1", "type": "quantitative", "scale": {"domain": [-566.7, 93.9], "nice": false, "zero": false}, "axis": null},
  "y2": {"field": "y2"}
 }},
{"data": {"name": "topThick"},
 "mark": {"type": "rule", "color": "#000000", "strokeWidth": 3, "clip": true},
 "encoding": {
  "x": {"field": "x1", "type": "quantitative", "scale": {"domain": [33, 1362], "nice": false, "zero": false}, "axis": null},
  "x2": {"field": "x2"},
  "y": {"field": "y1", "type": "quantitative", "scale": {"domain": [-566.7, 93.9], "nice": false, "zero": false}, "axis": null},
  "y2": {"field": "y2"}
 }},
{"data": {"name": "botThin"},
 "mark": {"type": "rule", "color": "#1A1A1A", "strokeWidth": 1, "clip": true},
 "encoding": {
  "x": {"field": "x1", "type": "quantitative", "scale": {"domain": [33, 1362], "nice": false, "zero": false}, "axis": null},
  "x2": {"field": "x2"},
  "y": {"field": "y1", "type": "quantitative", "scale": {"domain": [3155.1, 4338.6], "nice": false, "zero": false}, "axis": null},
  "y2": {"field": "y2"}
 }},
{"data": {"name": "botThick"},
 "mark": {"type": "rule", "color": "#000000", "strokeWidth": 3, "clip": true},
 "encoding": {
  "x": {"field": "x1", "type": "quantitative", "scale": {"domain": [33, 1362], "nice": false, "zero": false}, "axis": null},
  "x2": {"field": "x2"},
  "y": {"field": "y1", "type": "quantitative", "scale": {"domain": [3155.1, 4338.6], "nice": false, "zero": false}, "axis": null},
  "y2": {"field": "y2"}
 }}
]
}
